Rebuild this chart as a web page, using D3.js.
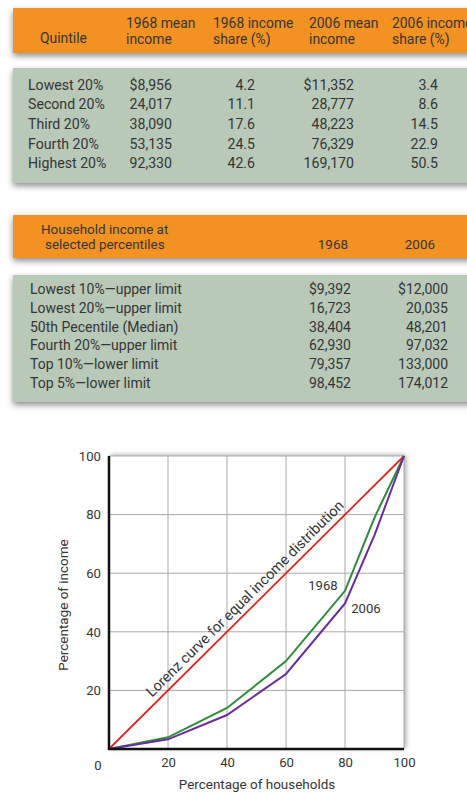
<!DOCTYPE html>
<html><head><meta charset="utf-8">
<script src="https://cdn.jsdelivr.net/npm/d3@7"></script>
<style>
html,body{margin:0;padding:0;background:#fff;}
svg{display:block;font-family:Roboto,sans-serif;}
</style></head>
<body>
<svg id="c" width="467" height="793"></svg>
<script>
// ---- Table 1 data ----
const quintiles = ["Lowest 20%","Second 20%","Third 20%","Fourth 20%","Highest 20%"];
const mean1968 = [8956,24017,38090,53135,92330];
const share1968 = [4.2,11.1,17.6,24.5,42.6];
const mean2006 = [11352,28777,48223,76329,169170];
const share2006 = [3.4,8.6,14.5,22.9,50.5];
const table1Headers = [["Quintile"],["1968 mean","income"],["1968 income","share (%)"],["2006 mean","income"],["2006 income","share (%)"]];

// ---- Table 2 data ----
const percentileLabels = ["Lowest 10%\u2014upper limit","Lowest 20%\u2014upper limit","50th Pecentile (Median)","Fourth 20%\u2014upper limit","Top 10%\u2014lower limit","Top 5%\u2014lower limit"];
const pct1968 = [9392,16723,38404,62930,79357,98452];
const pct2006 = [12000,20035,48201,97032,133000,174012];
const table2Headers = [["Household income at","selected percentiles"],["1968"],["2006"]];

// ---- Lorenz chart data ----
const households = [0,20,40,60,80,90,100];
const income1968 = [0,4,14,30,54,79,100];
const income2006 = [0,3.3,11.6,25.6,49.7,73,100];
const equalityX = [0,100];
const equalityY = [0,100];
const xTicks = [20,40,60,80,100];
const yTicks = [20,40,60,80,100];

const svg = d3.select("#c");
function fit(str, target, k){
  const t = svg.append("text").attr("font-size",100).text(str);
  const w = t.node().getComputedTextLength(); t.remove();
  return Math.min(17, (k||1.06)*100*target/w);
}
const FS_body = fit("Highest 20%", 74);
const FS_head = fit("1968 income", 76);
const FS_t2 = fit("Lowest 10%\u2014upper limit", 149, 1.02);
const FS_t2h = fit("Household income at", 125, 1.02);
const FS_ax = fit("Percentage of households", 152, 1.03);
const FS_tick = fit("100", 20.5, 1.08);
const FS_lor = fit("Lorenz curve for equal income distribution", 272, 1.0);

const defs = svg.append("defs");
const f = defs.append("filter").attr("id","sh").attr("x","-5%").attr("y","-10%").attr("width","115%").attr("height","130%");
f.append("feDropShadow").attr("dx",0).attr("dy",3).attr("stdDeviation",3).attr("flood-color","#000").attr("flood-opacity",0.45);
const f2 = defs.append("filter").attr("id","sh2").attr("x","-5%").attr("y","-5%").attr("width","115%").attr("height","115%");
f2.append("feDropShadow").attr("dx",2).attr("dy",-1).attr("stdDeviation",2.5).attr("flood-color","#000").attr("flood-opacity",0.35);

const ORANGE = "#f39222", GREEN = "#b8c9b8", TXT = "#353535";
const money = (v,i) => (i===0?"$":"") + d3.format(",")(v);

// ---- Table 1 ----
svg.append("rect").attr("x",13).attr("y",8).attr("width",470).attr("height",45).attr("fill",ORANGE).attr("filter","url(#sh)");
svg.append("rect").attr("x",13).attr("y",68).attr("width",470).attr("height",115).attr("fill",GREEN).attr("filter","url(#sh)");
const h1x = [40,126,213,309,392];
table1Headers.forEach((lines,j)=>{
  const y0 = lines.length===1 ? 43 : 28;
  lines.forEach((t,k)=>svg.append("text").attr("x",h1x[j]).attr("y",y0+k*15.5).attr("font-size",FS_head).attr("fill",TXT).text(t));
});
const row1 = d3.scaleBand().domain(d3.range(quintiles.length)).range([75,173]);
const cols1 = [
  {x:28, anchor:"start", vals:quintiles.map(d=>d)},
  {x:172, anchor:"end", vals:mean1968.map(money)},
  {x:255, anchor:"end", vals:share1968.map(d=>d3.format(".1f")(d))},
  {x:354, anchor:"end", vals:mean2006.map(money)},
  {x:438, anchor:"end", vals:share2006.map(d=>d3.format(".1f")(d))}
];
cols1.forEach(c=>{
  svg.append("g").selectAll("text").data(c.vals).join("text")
    .attr("x",c.x).attr("y",(d,i)=>row1(i)+row1.bandwidth()/2+5)
    .attr("text-anchor",c.anchor).attr("font-size",FS_body).attr("fill",TXT).text(d=>d);
});

// ---- Table 2 ----
svg.append("rect").attr("x",13).attr("y",215).attr("width",470).attr("height",43).attr("fill",ORANGE).attr("filter","url(#sh)");
svg.append("rect").attr("x",13).attr("y",275).attr("width",470).attr("height",127).attr("fill",GREEN).attr("filter","url(#sh)");
svg.append("text").attr("x",41).attr("y",234).attr("font-size",FS_t2h).attr("fill",TXT).text(table2Headers[0][0]);
svg.append("text").attr("x",45).attr("y",248.5).attr("font-size",FS_t2h).attr("fill",TXT).text(table2Headers[0][1]);
svg.append("text").attr("x",348).attr("y",248.5).attr("text-anchor","end").attr("font-size",FS_t2h).attr("fill",TXT).text(table2Headers[1][0]);
svg.append("text").attr("x",435).attr("y",248.5).attr("text-anchor","end").attr("font-size",FS_t2h).attr("fill",TXT).text(table2Headers[2][0]);
const row2 = d3.scaleBand().domain(d3.range(percentileLabels.length)).range([280,392]);
const cols2 = [
  {x:30, anchor:"start", vals:percentileLabels},
  {x:351, anchor:"end", vals:pct1968.map(money)},
  {x:448, anchor:"end", vals:pct2006.map(money)}
];
cols2.forEach(c=>{
  svg.append("g").selectAll("text").data(c.vals).join("text")
    .attr("x",c.x).attr("y",(d,i)=>row2(i)+row2.bandwidth()/2+5)
    .attr("text-anchor",c.anchor).attr("font-size",FS_t2).attr("fill",TXT).text(d=>d);
});

// ---- Lorenz chart ----
const x = d3.scaleLinear().domain([0,100]).range([109,404]);
const y = d3.scaleLinear().domain([0,100]).range([749,456]);
svg.append("rect").attr("x",x(0)).attr("y",y(100)).attr("width",x(100)-x(0)).attr("height",y(0)-y(100))
  .attr("fill","#fff").attr("filter","url(#sh2)");
const grid = svg.append("g");
grid.selectAll("line.v").data(xTicks).join("line").attr("class","v")
  .attr("x1",d=>x(d)).attr("x2",d=>x(d)).attr("y1",y(0)).attr("y2",y(100)).attr("stroke","#aaa").attr("stroke-width",1);
grid.selectAll("line.h").data(yTicks).join("line").attr("class","h")
  .attr("x1",x(0)).attr("x2",x(100)).attr("y1",d=>y(d)).attr("y2",d=>y(d)).attr("stroke","#aaa").attr("stroke-width",1);

const xAxis = svg.append("g").attr("transform",`translate(0,${y(0)})`)
  .call(d3.axisBottom(x).tickValues(xTicks).tickSize(0).tickPadding(9));
const yAxis = svg.append("g").attr("transform",`translate(${x(0)},0)`)
  .call(d3.axisLeft(y).tickValues(yTicks).tickSize(0).tickPadding(8));
[xAxis,yAxis].forEach(a=>{
  a.select(".domain").remove();
  a.selectAll("text").attr("font-size",FS_tick).attr("fill",TXT).attr("font-family","Roboto, sans-serif");
});
svg.append("text").attr("x",98).attr("y",769.5).attr("text-anchor","middle").attr("font-size",FS_tick).attr("fill",TXT).text("0");

const line = d3.line().x(d=>x(d[0])).y(d=>y(d[1]));
svg.append("path").datum(d3.zip(equalityX,equalityY)).attr("d",line).attr("fill","none").attr("stroke","#e0261d").attr("stroke-width",1.8);
svg.append("path").datum(d3.zip(households,income1968)).attr("d",line).attr("fill","none").attr("stroke","#2e8b3a").attr("stroke-width",2);
svg.append("path").datum(d3.zip(households,income2006)).attr("d",line).attr("fill","none").attr("stroke","#6a2c9a").attr("stroke-width",2);

// axes lines
svg.append("line").attr("x1",x(0)).attr("x2",x(0)).attr("y1",y(100)).attr("y2",y(0)+1).attr("stroke","#111").attr("stroke-width",2.5);
svg.append("line").attr("x1",x(0)-1).attr("x2",x(100)).attr("y1",y(0)).attr("y2",y(0)).attr("stroke","#111").attr("stroke-width",2.5);

// labels
const ang = Math.atan2(y(100)-y(0), x(100)-x(0))*180/Math.PI;
svg.append("text").attr("transform",`translate(${x(16)},${y(16)}) rotate(${ang})`).attr("dy",-6)
  .attr("font-size",FS_lor).attr("fill",TXT).text("Lorenz curve for equal income distribution");
svg.append("text").attr("x",323).attr("y",590).attr("text-anchor","middle").attr("font-size",FS_tick).attr("fill",TXT).text("1968");
svg.append("text").attr("x",366).attr("y",613).attr("text-anchor","middle").attr("font-size",FS_tick).attr("fill",TXT).text("2006");
svg.append("text").attr("x",257).attr("y",789).attr("text-anchor","middle").attr("font-size",FS_ax).attr("fill",TXT).text("Percentage of households");
svg.append("text").attr("transform","translate(68,605) rotate(-90)").attr("text-anchor","middle").attr("font-size",FS_ax).attr("fill",TXT).text("Percentage of income");
</script>
</body></html>
